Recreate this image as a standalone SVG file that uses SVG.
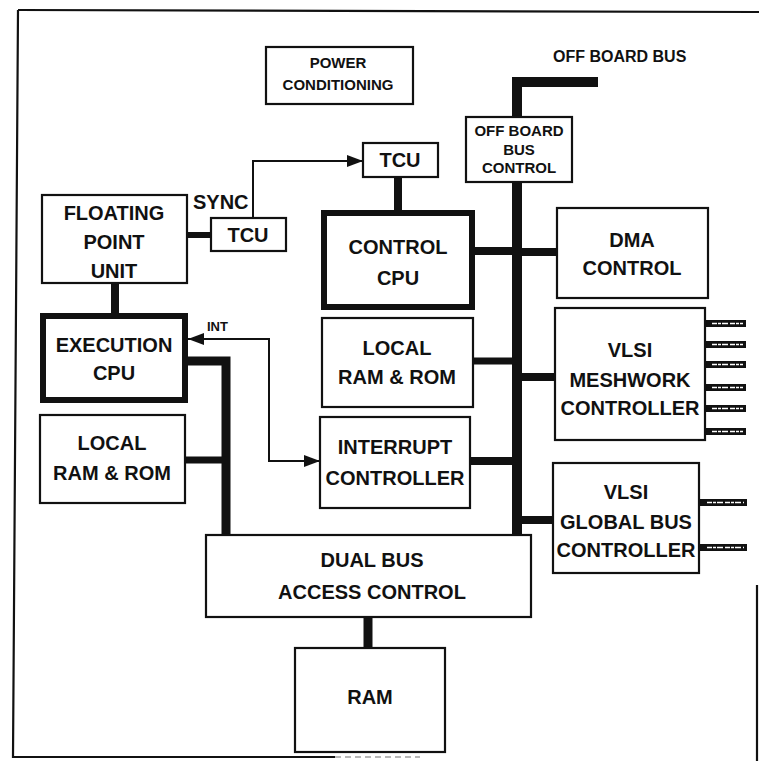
<svg xmlns="http://www.w3.org/2000/svg" width="759" height="761" viewBox="0 0 759 761">
<defs>
<style>
.box{fill:#fff;stroke:#111;stroke-width:2.2}
.tbox{fill:#fff;stroke:#111;stroke-width:6}
.t{font-family:"Liberation Sans",Arial,sans-serif;font-weight:bold;font-size:20px;fill:#111;text-anchor:middle}
.ts{font-size:15px}
.bus{fill:none;stroke:#111;stroke-linecap:butt}
.thin{fill:none;stroke:#111;stroke-width:2}
.stub{fill:#111}
.stubmark{fill:none;stroke:#fff;stroke-width:1.4;stroke-dasharray:5 1 3 1 6 2}
</style>
<marker id="ah" viewBox="0 0 16 12" refX="16" refY="6" markerWidth="16" markerHeight="12" markerUnits="userSpaceOnUse" orient="auto-start-reverse">
<path d="M0,0 L16,6 L0,12 Z" fill="#111"/>
</marker>
</defs>
<rect width="759" height="761" fill="#fff"/>
<g id="frame" fill="none" stroke="#111" stroke-width="2.2">
<path d="M18,10 L759,12"/>
<path d="M18,10 L13,757 L335,757"/>
<path d="M335,757 L420,757" stroke-width="1.2" stroke-dasharray="6 4" opacity="0.6"/>
<path d="M757,585 V761"/>
</g>
<g id="connectors">
<path class="bus" d="M517,535 V82 H598" stroke-width="10"/>
<path class="bus" d="M475,251 H517" stroke-width="8"/>
<path class="bus" d="M473,361 H517" stroke-width="7"/>
<path class="bus" d="M470,461 H517" stroke-width="8"/>
<path class="bus" d="M517,252 H557" stroke-width="8"/>
<path class="bus" d="M517,377 H555" stroke-width="8"/>
<path class="bus" d="M517,520 H553" stroke-width="8"/>
<path class="bus" d="M398,177 V213" stroke-width="8"/>
<path class="bus" d="M187,235 H211" stroke-width="6"/>
<path class="bus" d="M115,283 V313" stroke-width="8"/>
<path class="bus" d="M188,361 H226 V535" stroke-width="9"/>
<path class="bus" d="M185,460 H226" stroke-width="7"/>
<path class="bus" d="M368,617 V648" stroke-width="9"/>
<path class="thin" d="M253,218 V161 H363" marker-end="url(#ah)"/>
<path class="thin" d="M188,339 H269 V461 H320" marker-start="url(#ah)" marker-end="url(#ah)"/>
<g id="stubs">
<rect class="stub" x="706" y="320" width="40" height="7"/>
<rect class="stub" x="706" y="341" width="40" height="7"/>
<rect class="stub" x="706" y="361" width="40" height="7"/>
<rect class="stub" x="706" y="384" width="40" height="7"/>
<rect class="stub" x="706" y="405" width="40" height="7"/>
<rect class="stub" x="706" y="428" width="40" height="7"/>
<rect class="stub" x="700" y="499" width="47" height="7"/>
<rect class="stub" x="700" y="544" width="47" height="7"/>
<path class="stubmark" d="M712,323.5 H743 M712,344.5 H743 M712,364.5 H743 M712,387.5 H743 M712,408.5 H743 M712,431.5 H743 M707,502.5 H744 M707,547.5 H744"/>
</g>
</g>
<g id="labels">
<text class="t" x="553" y="62" style="text-anchor:start;font-size:16px">OFF BOARD BUS</text>
<text class="t" x="193" y="209" style="text-anchor:start">SYNC</text>
<text class="t" x="207" y="331" style="text-anchor:start;font-size:13px">INT</text>
</g>
<g id="power">
<rect class="box" x="266" y="47" width="147" height="57"/>
<text class="t ts" x="338" y="68">POWER</text>
<text class="t ts" x="338" y="90">CONDITIONING</text>
</g>
<g id="tcu_top">
<rect class="box" x="363" y="143" width="75" height="34"/>
<text class="t" x="400" y="167">TCU</text>
</g>
<g id="tcu_sync">
<rect class="box" x="211" y="218" width="75" height="33"/>
<text class="t" x="248" y="242">TCU</text>
</g>
<g id="fpu">
<rect class="box" x="42" y="195" width="145" height="88"/>
<text class="t" x="114" y="220">FLOATING</text>
<text class="t" x="114" y="249">POINT</text>
<text class="t" x="114" y="278">UNIT</text>
</g>
<g id="exec_cpu">
<rect class="tbox" x="43" y="316" width="142" height="84"/>
<text class="t" x="114" y="352">EXECUTION</text>
<text class="t" x="114" y="380">CPU</text>
</g>
<g id="local_left">
<rect class="box" x="40" y="415" width="145" height="88"/>
<text class="t" x="112" y="450">LOCAL</text>
<text class="t" x="112" y="480">RAM &amp; ROM</text>
</g>
<g id="control_cpu">
<rect class="tbox" x="324" y="213" width="148" height="94"/>
<text class="t" x="398" y="254">CONTROL</text>
<text class="t" x="398" y="285">CPU</text>
</g>
<g id="local_mid">
<rect class="box" x="322" y="318" width="151" height="89"/>
<text class="t" x="397" y="355">LOCAL</text>
<text class="t" x="397" y="384">RAM &amp; ROM</text>
</g>
<g id="interrupt">
<rect class="box" x="320" y="417" width="150" height="91"/>
<text class="t" x="395" y="454">INTERRUPT</text>
<text class="t" x="395" y="485">CONTROLLER</text>
</g>
<g id="offboard_ctrl">
<rect class="box" x="466" y="117" width="106" height="65"/>
<text class="t ts" x="519" y="136">OFF BOARD</text>
<text class="t ts" x="519" y="155">BUS</text>
<text class="t ts" x="519" y="173">CONTROL</text>
</g>
<g id="dma">
<rect class="box" x="557" y="208" width="151" height="90"/>
<text class="t" x="632" y="247">DMA</text>
<text class="t" x="632" y="275">CONTROL</text>
</g>
<g id="meshwork">
<rect class="box" x="555" y="308" width="150" height="132"/>
<text class="t" x="630" y="357">VLSI</text>
<text class="t" x="630" y="387">MESHWORK</text>
<text class="t" x="630" y="415">CONTROLLER</text>
</g>
<g id="globalbus">
<rect class="box" x="553" y="463" width="146" height="110"/>
<text class="t" x="626" y="499">VLSI</text>
<text class="t" x="626" y="529">GLOBAL BUS</text>
<text class="t" x="626" y="557">CONTROLLER</text>
</g>
<g id="dualbus">
<rect class="box" x="206" y="535" width="325" height="82"/>
<text class="t" x="372" y="567">DUAL BUS</text>
<text class="t" x="372" y="599">ACCESS CONTROL</text>
</g>
<g id="ram">
<rect class="box" x="295" y="648" width="150" height="104"/>
<text class="t" x="370" y="704">RAM</text>
</g>
</svg>
